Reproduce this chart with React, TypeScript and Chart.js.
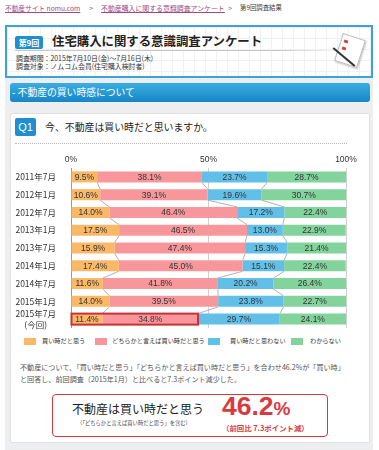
import React, { useEffect, useRef } from 'react';
import { Chart, registerables } from 'chart.js';
Chart.register(...registerables);

const FF = '"Liberation Sans", "Noto Sans CJK JP", sans-serif';
const JP = '"Noto Sans CJK JP", "Liberation Sans", sans-serif';

const categories: (string | string[])[] = [
  '2011年7月', '2012年1月', '2012年7月', '2013年1月', '2013年7月',
  '2014年1月', '2014年7月', '2015年1月', ['2015年7月', '(今回)'],
];
const buyNow = [9.5, 10.6, 14.0, 17.5, 15.9, 17.4, 11.6, 14.0, 11.4];
const ratherBuy = [38.1, 39.1, 46.4, 46.5, 47.4, 45.0, 41.8, 39.5, 34.8];
const notBuy = [23.7, 19.6, 17.2, 13.0, 15.3, 15.1, 20.2, 23.8, 29.7];
const unknown = [28.7, 30.7, 22.4, 22.9, 21.4, 22.4, 26.4, 22.7, 24.1];
const seriesNames = ['買い時だと思う', 'どちらかと言えば買い時だと思う', '買い時だと思わない', 'わからない'];
const seriesColors = ['#fbb866', '#f7979b', '#62c0e8', '#82d39c'];
const xTicks = [0, 50, 100];
const seriesValues = [buyNow, ratherBuy, notBuy, unknown];

const overlay = {
  id: 'overlay',
  afterDatasetsDraw(chart: any) {
    const ctx = chart.ctx;
    const metas = [0, 1, 2, 3].map((i) => chart.getDatasetMeta(i));
    const xs = chart.scales.x;
    ctx.save();
    // connector lines
    ctx.strokeStyle = 'rgba(170,170,170,0.9)';
    ctx.lineWidth = 1;
    for (let i = 0; i < categories.length - 1; i++) {
      const a: any = metas[0].data[i];
      const b: any = metas[0].data[i + 1];
      const y1 = a.y + a.height / 2;
      const y2 = b.y - b.height / 2;
      let c1 = 0;
      let c2 = 0;
      for (let k = 0; k < 3; k++) {
        c1 += seriesValues[k][i];
        c2 += seriesValues[k][i + 1];
        ctx.beginPath();
        ctx.moveTo(xs.getPixelForValue(c1), y1);
        ctx.lineTo(xs.getPixelForValue(c2), y2);
        ctx.stroke();
      }
    }
    // highlight of latest survey (buy + rather buy)
    const last = categories.length - 1;
    const e0: any = metas[0].data[last];
    const e1: any = metas[1].data[last];
    ctx.strokeStyle = '#c9303b';
    ctx.lineWidth = 2;
    ctx.strokeRect(e0.base, e0.y - e0.height / 2, e1.x - e0.base, e0.height);
    // value labels
    ctx.fillStyle = '#333';
    ctx.font = `8.5px ${FF}`;
    ctx.textAlign = 'center';
    ctx.textBaseline = 'middle';
    metas.forEach((m: any, k: number) => {
      m.data.forEach((el: any, i: number) => {
        ctx.fillText(seriesValues[k][i].toFixed(1) + '%', (el.x + el.base) / 2, el.y + 0.5);
      });
    });
    ctx.restore();
  },
};

function ChartBox() {
  const ref = useRef<HTMLCanvasElement>(null);
  useEffect(() => {
    const chart = new Chart(ref.current as HTMLCanvasElement, {
      type: 'bar',
      data: {
        labels: categories as any,
        datasets: seriesValues.map((vals, k) => ({
          label: seriesNames[k],
          data: vals,
          backgroundColor: seriesColors[k],
          borderWidth: 0,
          barPercentage: 0.62,
          categoryPercentage: 1,
        })),
      },
      options: {
        indexAxis: 'y',
        responsive: false,
        animation: false,
        devicePixelRatio: 1,
        layout: { padding: { top: 0, right: 14, bottom: 2, left: 0 } },
        plugins: { legend: { display: false }, tooltip: { enabled: false } },
        scales: {
          x: {
            position: 'top',
            stacked: true,
            min: 0,
            max: 100,
            afterBuildTicks: (s: any) => {
              s.ticks = xTicks.map((v) => ({ value: v }));
            },
            afterFit: (s: any) => {
              s.height = 22;
              s.paddingLeft = 0;
              s.paddingRight = 0;
            },
            ticks: {
              callback: (v: any) => v + '%',
              font: { size: 8.5, family: FF },
              color: '#333',
              padding: 3,
              maxRotation: 0,
              autoSkip: false,
            },
            grid: {
              drawTicks: false,
              color: (c: any) => (c.tick && c.tick.value === 0 ? '#9a9a9a' : '#d0d0d0'),
            },
            border: { display: false },
          },
          y: {
            stacked: true,
            afterFit: (s: any) => {
              s.width = 61;
              s.paddingTop = 0;
              s.paddingBottom = 0;
            },
            ticks: {
              font: { size: 8.5, family: JP, lineHeight: 1.35 },
              color: '#333',
              crossAlign: 'center',
              padding: 7,
              autoSkip: false,
            },
            grid: { display: false },
            border: { display: false },
          },
        },
      } as any,
      plugins: [overlay],
    });
    return () => chart.destroy();
  }, []);
  return <canvas ref={ref} width={350} height={184} />;
}

const abs = (o: React.CSSProperties): React.CSSProperties => ({ position: 'absolute', whiteSpace: 'nowrap', ...o });

export default function App() {
  const link: React.CSSProperties = { color: '#a04a82', textDecoration: 'underline' };
  return (
    <div style={{ position: 'fixed', left: 0, top: 0, width: 379, height: 450, background: '#fff', overflow: 'hidden', fontFamily: JP, color: '#222' }}>
      {/* breadcrumb */}
      <div style={abs({ left: 5, top: 2, fontSize: 6.7, lineHeight: '12px', ...link })}>不動産サイト nomu.com</div>
      <div style={abs({ left: 89, top: 2, fontSize: 7.5, lineHeight: '12px', color: '#777' })}>&gt;</div>
      <div style={abs({ left: 101, top: 2, fontSize: 6.9, lineHeight: '12px', ...link })}>不動産購入に関する意識調査アンケート</div>
      <div style={abs({ left: 228, top: 2, fontSize: 7.5, lineHeight: '12px', color: '#777' })}>&gt;</div>
      <div style={abs({ left: 240, top: 2, fontSize: 6.4, lineHeight: '12px', color: '#444' })}>第9回調査結果</div>

      {/* gray panel */}
      <div style={abs({ left: 5, top: 77, width: 368, height: 373, background: '#eceeef' })} />

      {/* header box */}
      <div
        style={abs({
          left: 5, top: 25, width: 368, height: 53, boxSizing: 'border-box', border: '2px solid #3aa3d8',
          background: '#fff',
          backgroundImage: 'linear-gradient(#f1f1f1 1px, transparent 1px), linear-gradient(90deg, #f1f1f1 1px, transparent 1px)',
          backgroundSize: '11px 11px',
        })}
      />
      <div style={abs({ left: 15, top: 36, width: 28, height: 13, background: '#1f8fd0', borderRadius: 2, color: '#fff', fontSize: 8, fontWeight: 700, lineHeight: '13px', textAlign: 'center' })}>第9回</div>
      <div style={abs({ left: 52, top: 33, fontSize: 12.4, fontWeight: 700, lineHeight: '17px', color: '#222' })}>住宅購入に関する意識調査アンケート</div>
      <div style={abs({ left: 15, top: 50, width: 330, height: 1, background: 'linear-gradient(90deg, #c8c8c8 80%, rgba(200,200,200,0))' })} />
      <div style={abs({ left: 16, top: 54, fontSize: 6.9, lineHeight: '9px', color: '#333' })}>調査期間：2015年7月10日(金)～7月16日(木)</div>
      <div style={abs({ left: 16, top: 62, fontSize: 6.9, lineHeight: '9px', color: '#333' })}>調査対象：ノムコム会員(住宅購入検討者)</div>
      {/* paper icon */}
      <div style={abs({ left: 338, top: 36, width: 22, height: 27, background: '#fff', border: '1px solid #bbb', transform: 'rotate(18deg)', boxShadow: '1px 1px 2px rgba(0,0,0,0.25)' })} />
      <div style={abs({ left: 344, top: 40, width: 4, height: 3, background: '#d04040', transform: 'rotate(18deg)' })} />
      <div style={abs({ left: 342, top: 47, width: 4, height: 3, background: '#d04040', transform: 'rotate(18deg)' })} />
      <div style={abs({ left: 330, top: 56, width: 28, height: 2, background: '#333', transform: 'rotate(40deg)' })} />

      {/* section bar */}
      <div style={abs({ left: 10, top: 83, width: 360, height: 19, borderRadius: 3, background: 'linear-gradient(#3aaee3, #1786c6)' })} />
      <div style={abs({ left: 12, top: 83, fontSize: 9.8, lineHeight: '18px', color: '#fff' })}>- 不動産の買い時感について</div>

      {/* card */}
      <div style={abs({ left: 10, top: 113, width: 360, height: 330, background: '#fff', border: '1px solid #e0e0e0', borderRadius: 2, boxSizing: 'border-box' })} />
      <div style={abs({ left: 15, top: 118, width: 21, height: 18, background: '#1f8fd0', borderRadius: 2, color: '#fff', fontSize: 11, lineHeight: '18px', textAlign: 'center', fontFamily: FF })}>Q1</div>
      <div style={abs({ left: 45, top: 120, fontSize: 9.9, lineHeight: '14px', color: '#222' })}>今、不動産は買い時だと思いますか。</div>
      <div style={abs({ left: 15, top: 143, width: 332, height: 0, borderTop: '1px dotted #b8b8b8' })} />

      {/* chart */}
      <div style={abs({ left: 10, top: 146, width: 350, height: 184 })}>
        <ChartBox />
      </div>

      {/* legend */}
      {[24, 95, 208, 291].map((x, k) => (
        <div key={'r' + k} style={abs({ left: x, top: 338, width: 12, height: 7, background: seriesColors[k] })} />
      ))}
      {[42, 112, 230, 310].map((x, k) => (
        <div key={'t' + k} style={abs({ left: x, top: 336, fontSize: 6.2, lineHeight: '10px', color: '#333' })}>{seriesNames[k]}</div>
      ))}

      {/* description */}
      <div style={abs({ left: 20, top: 361, fontSize: 7.1, lineHeight: '12px', color: '#555' })}>
        不動産について、「買い時だと思う」「どちらかと言えば買い時だと思う」を合わせ46.2%が「買い時」
        <br />
        と回答し、前回調査（2015年1月）と比べると7.3ポイント減少した。
      </div>

      {/* summary box */}
      <div style={abs({ left: 52, top: 394, width: 276, height: 43, boxSizing: 'border-box', border: '1.5px solid #d7383f', borderRadius: 4, background: '#fff' })} />
      <div style={abs({ left: 72, top: 401, fontSize: 12, lineHeight: '16px', color: '#222' })}>不動産は買い時だと思う</div>
      <div style={abs({ left: 77, top: 420, fontSize: 5.3, lineHeight: '7px', color: '#444' })}>（「どちらかと言えば買い時だと思う」を含む）</div>
      <div style={abs({ left: 222, top: 393, lineHeight: '26px', color: '#d93a3f', fontFamily: FF, fontWeight: 700 })}>
        <span style={{ fontSize: 26.5 }}>46.2</span>
        <span style={{ fontSize: 19 }}>%</span>
      </div>
      <div style={abs({ left: 222, top: 423, fontSize: 7.4, lineHeight: '10px', color: '#d93a3f', fontWeight: 700 })}>（前回比 7.3ポイント減）</div>
    </div>
  );
}
